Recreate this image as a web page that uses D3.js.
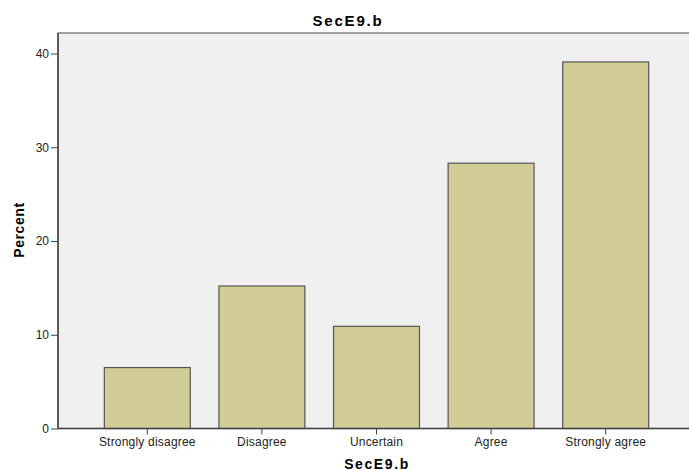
<!DOCTYPE html>
<html><head><meta charset="utf-8">
<script src="https://cdn.jsdelivr.net/npm/d3@7"></script>
<style>body{margin:0;background:#fff}svg{display:block}</style>
</head><body>
<script>
const categories = ["Strongly disagree","Disagree","Uncertain","Agree","Strongly agree"];
const percents = [6.5, 15.2, 10.9, 28.3, 39.1];
const yTicks = [0,10,20,30,40];
const title = "SecE9.b";
const xTitle = "SecE9.b";
const yTitle = "Percent";

const W = 689, H = 470;
const plotLeft = 58, plotTop = 33, plotBottom = 428.5;
const svg = d3.select("body").append("svg").attr("width", W).attr("height", H);
const font = "'Liberation Sans', Arial, sans-serif";

svg.append("rect").attr("x", plotLeft).attr("y", plotTop).attr("width", W - plotLeft + 2).attr("height", plotBottom - plotTop)
  .attr("fill", "#f0f0f0").attr("stroke", "#666").attr("stroke-width", 1.2);

const y = d3.scaleLinear().domain([0, 40]).range([plotBottom, 53.5]);
const x = d3.scaleBand().domain(categories).range([90, 663]).paddingInner(0.25).paddingOuter(0.125);

svg.selectAll("rect.bar").data(categories).enter().append("rect").attr("class","bar")
  .attr("x", d => x(d)).attr("width", x.bandwidth())
  .attr("y", (d,i) => y(percents[i])).attr("height", (d,i) => plotBottom - y(percents[i]))
  .attr("fill", "#d2cd96").attr("stroke", "#555").attr("stroke-width", 1.2);

const ya = svg.append("g").attr("transform", `translate(${plotLeft},0)`)
  .call(d3.axisLeft(y).tickValues(yTicks).tickSize(7).tickPadding(2).tickFormat(d3.format("d")));
ya.select(".domain").remove();
ya.append("line").attr("x1",0).attr("x2",0).attr("y1",plotTop).attr("y2",plotBottom).attr("stroke","#444").attr("stroke-width",1.5);
ya.selectAll("line").attr("stroke","#444");
ya.selectAll("text").attr("font-family", font).attr("font-size", 12).attr("fill","#222");

const xa = svg.append("g").attr("transform", `translate(0,${plotBottom})`)
  .call(d3.axisBottom(x).tickSize(6).tickPadding(3));
xa.select(".domain").remove();
xa.append("line").attr("x1",plotLeft).attr("x2",W).attr("y1",0).attr("y2",0).attr("stroke","#444").attr("stroke-width",1.5);
xa.selectAll("line").attr("stroke","#444");
xa.selectAll("text").attr("font-family", font).attr("font-size", 12).attr("letter-spacing", 0.2).attr("fill","#222");

svg.append("text").attr("x", 348).attr("y", 26).attr("text-anchor","middle")
  .attr("font-family", font).attr("font-weight","bold").attr("font-size", 15).attr("letter-spacing", 1.8).text(title);
svg.append("text").attr("x", 377).attr("y", 468.5).attr("text-anchor","middle")
  .attr("font-family", font).attr("font-weight","bold").attr("font-size", 14).attr("letter-spacing", 1.6).text(xTitle);
svg.append("text").attr("transform", "translate(24,230) rotate(-90)").attr("text-anchor","middle")
  .attr("font-family", font).attr("font-weight","bold").attr("font-size", 14).attr("letter-spacing", 0.6).text(yTitle);
</script>
</body></html>
